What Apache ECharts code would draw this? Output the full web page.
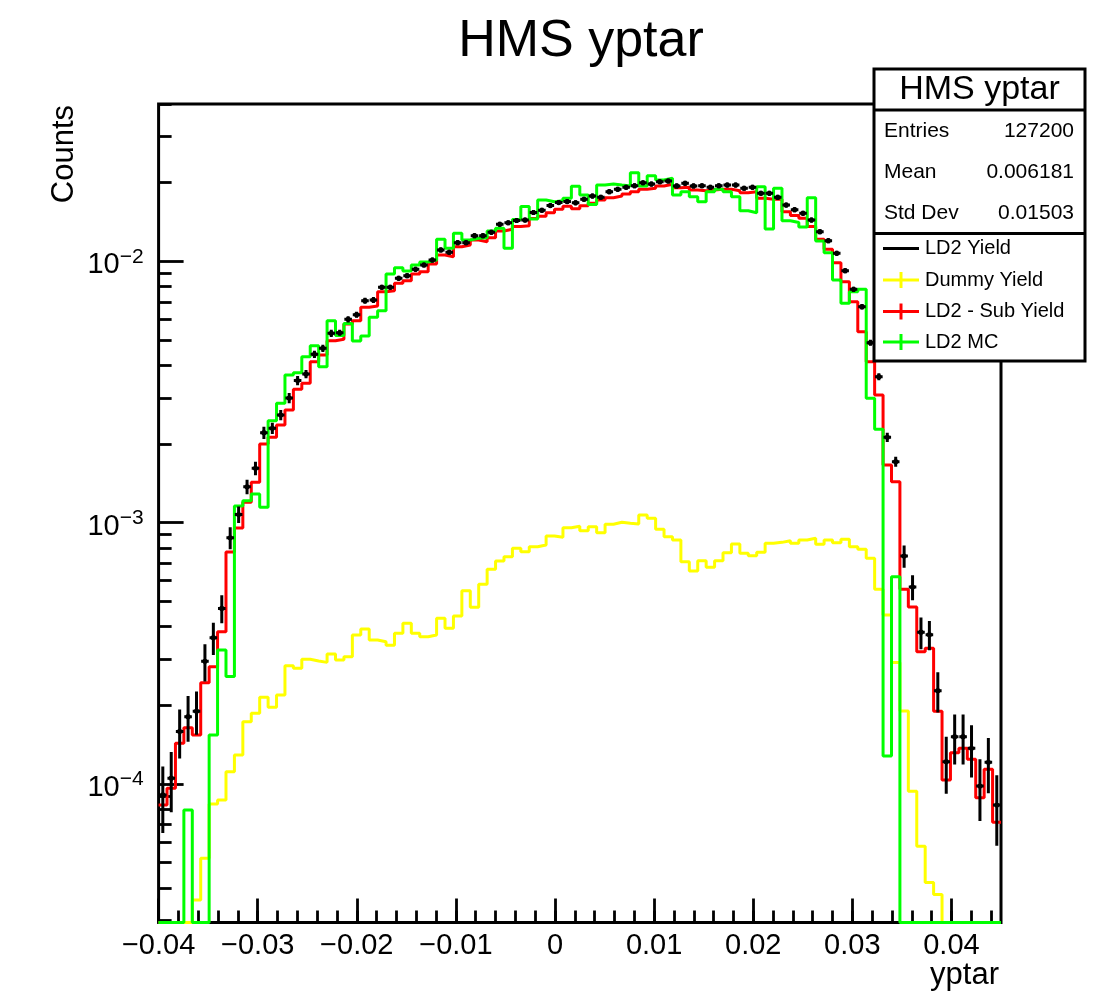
<!DOCTYPE html>
<html>
<head>
<meta charset="utf-8">
<title>HMS yptar</title>
<script src="https://cdn.jsdelivr.net/npm/echarts@6/dist/echarts.min.js"></script>
<style>
  html, body { margin: 0; padding: 0; background: #ffffff; }
  #chart { width: 1112px; height: 997px; }
</style>
</head>
<body>
<div id="chart"></div>
<script>
// ---- Histogram binning (yptar) ----
const xLow = -0.04;
const xHigh = 0.045;
const nBins = 100;

// ---- Bin contents, 100 bins each ----
const ld2Yield = [
  9.08e-5, 1.053e-4, 1.59e-4, 1.81e-4, 1.90e-4, 2.95e-4, 3.63e-4, 4.70e-4, 8.76e-4, 1.075e-3,
  1.373e-3, 1.615e-3, 2.210e-3, 2.297e-3, 2.584e-3, 3.000e-3, 3.501e-3, 3.708e-3, 4.411e-3, 4.649e-3,
  5.305e-3, 5.333e-3, 6.004e-3, 6.252e-3, 7.073e-3, 7.117e-3, 7.959e-3, 7.959e-3, 8.616e-3, 8.817e-3,
  9.328e-3, 9.687e-3, 1.012e-2, 1.106e-2, 1.083e-2, 1.179e-2, 1.179e-2, 1.254e-2, 1.254e-2, 1.292e-2,
  1.387e-2, 1.406e-2, 1.434e-2, 1.440e-2, 1.539e-2, 1.569e-2, 1.636e-2, 1.680e-2, 1.695e-2, 1.676e-2,
  1.729e-2, 1.779e-2, 1.759e-2, 1.848e-2, 1.887e-2, 1.921e-2, 1.948e-2, 2.000e-2, 1.977e-2, 2.018e-2,
  2.031e-2, 1.944e-2, 1.990e-2, 1.944e-2, 1.948e-2, 1.921e-2, 1.948e-2, 1.960e-2, 1.960e-2, 1.905e-2,
  1.921e-2, 1.822e-2, 1.822e-2, 1.759e-2, 1.643e-2, 1.577e-2, 1.528e-2, 1.440e-2, 1.299e-2, 1.200e-2,
  1.074e-2, 9.213e-3, 7.82e-3, 6.708e-3, 4.886e-3, 3.620e-3, 2.122e-3, 1.712e-3, 7.458e-4, 5.675e-4,
  3.81e-4, 3.727e-4, 2.276e-4, 1.217e-4, 1.517e-4, 1.517e-4, 1.369e-4, 9.825e-5, 1.211e-4, 8.31e-5
];

const ld2YieldErr = [
  2.59e-5, 2.73e-5, 3.39e-5, 3.6e-5, 3.58e-5, 4.8e-5, 5.1e-5, 5.8e-5, 8.5e-5, 7.8e-5,
  8.7e-5, 9.5e-5, 1.2e-4, 1.14e-4, 1.16e-4, 1.35e-4, 1.42e-4, 1.33e-4, 1.38e-4, 1.45e-4,
  1.66e-4, 1.43e-4, 1.61e-4, 1.68e-4, 1.9e-4, 1.9e-4, 1.77e-4, 1.77e-4, 1.9e-4, 1.95e-4,
  2.0e-4, 2.1e-4, 1.8e-4, 2.0e-4, 1.9e-4, 2.1e-4, 2.1e-4, 2.2e-4, 2.2e-4, 2.3e-4,
  2.5e-4, 2.5e-4, 2.6e-4, 2.6e-4, 2.7e-4, 2.8e-4, 2.9e-4, 3.0e-4, 3.0e-4, 3.0e-4,
  3.1e-4, 3.2e-4, 3.1e-4, 3.3e-4, 3.4e-4, 3.4e-4, 3.5e-4, 3.6e-4, 3.5e-4, 3.6e-4,
  3.6e-4, 3.5e-4, 3.5e-4, 3.5e-4, 3.5e-4, 3.4e-4, 3.5e-4, 3.5e-4, 3.5e-4, 3.4e-4,
  3.4e-4, 3.3e-4, 3.3e-4, 3.1e-4, 2.9e-4, 2.8e-4, 2.7e-4, 2.6e-4, 2.3e-4, 2.1e-4,
  1.9e-4, 2.0e-4, 1.8e-4, 1.6e-4, 1.3e-4, 1.1e-4, 8.5e-5, 7.5e-5, 7.3e-5, 6.2e-5,
  5.3e-5, 4.75e-5, 4.0e-5, 3.0e-5, 3.3e-5, 3.3e-5, 3.1e-5, 2.6e-5, 2.9e-5, 2.5e-5
];

const dummyYield = [
  0, 0, 0, 0, 3.60e-5, 5.20e-5, 8.39e-5, 8.69e-5, 1.114e-4, 1.291e-4,
  1.731e-4, 1.865e-4, 2.147e-4, 1.966e-4, 2.191e-4, 2.836e-4, 2.772e-4, 3.00e-4, 2.955e-4, 2.921e-4,
  3.144e-4, 2.981e-4, 3.069e-4, 3.716e-4, 3.918e-4, 3.556e-4, 3.503e-4, 3.40e-4, 3.773e-4, 4.121e-4,
  3.773e-4, 3.662e-4, 3.716e-4, 4.306e-4, 3.943e-4, 4.394e-4, 5.49e-4, 4.745e-4, 5.81e-4, 6.63e-4,
  7.13e-4, 7.41e-4, 7.98e-4, 7.74e-4, 8.09e-4, 8.21e-4, 8.89e-4, 8.79e-4, 9.57e-4, 9.69e-4,
  9.32e-4, 9.65e-4, 9.16e-4, 9.86e-4, 1.0035e-3, 9.95e-4, 9.89e-4, 1.070e-3, 1.039e-3, 9.43e-4,
  8.84e-4, 8.59e-4, 7.09e-4, 6.53e-4, 7.15e-4, 6.75e-4, 7.15e-4, 7.68e-4, 8.29e-4, 7.64e-4,
  7.48e-4, 7.70e-4, 8.34e-4, 8.41e-4, 8.53e-4, 8.34e-4, 8.59e-4, 8.72e-4, 8.27e-4, 8.59e-4,
  8.38e-4, 8.64e-4, 8.09e-4, 7.91e-4, 7.31e-4, 5.56e-4, 4.43e-4, 2.92e-4, 1.903e-4, 9.38e-5,
  5.78e-5, 4.20e-5, 3.78e-5, 0, 0, 0, 0, 0, 0, 0
];

const ld2SubYield = [
  8.31e-5, 9.63e-5, 1.432e-4, 1.642e-4, 1.540e-4, 2.442e-4, 2.811e-4, 3.827e-4, 7.725e-4, 9.54e-4,
  1.197e-3, 1.428e-3, 2.001e-3, 2.122e-3, 2.365e-3, 2.700e-3, 3.239e-3, 3.416e-3, 4.133e-3, 4.384e-3,
  4.972e-3, 5.034e-3, 5.759e-3, 5.931e-3, 6.673e-3, 6.750e-3, 7.656e-3, 7.725e-3, 8.245e-3, 8.435e-3,
  8.950e-3, 9.133e-3, 9.773e-3, 1.058e-2, 1.042e-2, 1.138e-2, 1.155e-2, 1.208e-2, 1.190e-2, 1.232e-2,
  1.307e-2, 1.327e-2, 1.360e-2, 1.370e-2, 1.459e-2, 1.488e-2, 1.535e-2, 1.583e-2, 1.625e-2, 1.590e-2,
  1.632e-2, 1.668e-2, 1.718e-2, 1.753e-2, 1.779e-2, 1.811e-2, 1.848e-2, 1.887e-2, 1.905e-2, 1.944e-2,
  1.973e-2, 1.915e-2, 1.921e-2, 1.876e-2, 1.865e-2, 1.876e-2, 1.887e-2, 1.887e-2, 1.865e-2, 1.832e-2,
  1.848e-2, 1.744e-2, 1.729e-2, 1.729e-2, 1.550e-2, 1.499e-2, 1.462e-2, 1.360e-2, 1.215e-2, 1.113e-2,
  9.886e-3, 8.36e-3, 7.013e-3, 5.383e-3, 4.133e-3, 3.081e-3, 1.662e-3, 1.435e-3, 5.561e-4, 4.757e-4,
  3.208e-4, 3.306e-4, 1.898e-4, 1.036e-4, 1.318e-4, 1.369e-4, 1.243e-4, 8.863e-5, 1.138e-4, 7.137e-5
];

const ld2MC = [
  0, 0, 0, 7.952e-5, 0, 0, 1.540e-4, 3.256e-4, 2.579e-4, 1.158e-3,
  1.214e-3, 1.288e-3, 1.145e-3, 2.457e-3, 2.863e-3, 3.675e-3, 3.751e-3, 4.318e-3, 4.757e-3, 3.954e-3,
  5.931e-3, 5.203e-3, 5.784e-3, 4.959e-3, 5.18e-3, 6.112e-3, 6.477e-3, 8.95e-3, 9.46e-3, 9.19e-3,
  9.687e-3, 9.947e-3, 1.012e-2, 1.215e-2, 1.122e-2, 1.281e-2, 1.208e-2, 1.226e-2, 1.232e-2, 1.307e-2,
  1.339e-2, 1.122e-2, 1.447e-2, 1.622e-2, 1.453e-2, 1.718e-2, 1.692e-2, 1.707e-2, 1.744e-2, 1.938e-2,
  1.795e-2, 1.651e-2, 1.960e-2, 1.977e-2, 1.960e-2, 1.944e-2, 2.185e-2, 1.944e-2, 2.128e-2, 2.049e-2,
  2.080e-2, 1.795e-2, 1.848e-2, 1.768e-2, 1.692e-2, 1.848e-2, 1.887e-2, 1.848e-2, 1.768e-2, 1.563e-2,
  1.536e-2, 1.931e-2, 1.330e-2, 1.905e-2, 1.432e-2, 1.409e-2, 1.354e-2, 1.751e-2, 1.197e-2, 1.080e-2,
  8.488e-3, 6.915e-3, 7.656e-3, 7.82e-3, 2.993e-3, 2.277e-3, 1.280e-4, 6.214e-4, 0, 0,
  0, 0, 0, 0, 0, 0, 0, 0, 0, 0
];

// ---- Axis ticks ----
const xTickValues = [-0.04, -0.03, -0.02, -0.01, 0, 0.01, 0.02, 0.03, 0.04];
const yTickExponents = [-4, -3, -2];

// ---- Statistics box ----
const statsTitle = 'HMS yptar';
const statsRows = [['Entries', '127200'], ['Mean', '0.006181'], ['Std Dev', '0.01503']];
const legendRows = [
  { name: 'LD2 Yield', color: '#000000', cross: false },
  { name: 'Dummy Yield', color: '#ffff00', cross: true },
  { name: 'LD2 - Sub Yield', color: '#ff0000', cross: true },
  { name: 'LD2 MC', color: '#00ff00', cross: true }
];

// ---- Helpers ----
const FONT = "'Liberation Sans', Arial, Helvetica, sans-serif";
const Y_LOG_MIN = -4.53;
const Y_LOG_MAX = -1.3976;
const binW = (xHigh - xLow) / nBins;
const LINE_W = 3;
const TICK_W = 2.8;

function toLog(v) {
  return Math.log10(Math.max(v, Math.pow(10, Y_LOG_MIN)));
}
function stepData(vals) {
  const d = vals.map((v, i) => [xLow + i * binW, toLog(v)]);
  d.push([xHigh, toLog(vals[vals.length - 1])]);
  return d;
}
function fmtX(v) {
  if (Math.abs(v) < 1e-12) return '0';
  return (v < 0 ? '\u2212' : '') + Math.abs(v).toFixed(2);
}

// minor tick positions
const xMinor = [];
for (let k = -20; k <= 22; k++) xMinor.push(k * 0.002);
const yMinor = [];
for (let n = -5; n <= -2; n++) {
  for (let k = 2; k <= 9; k++) {
    const l = n + Math.log10(k);
    if (l > Y_LOG_MIN && l < Y_LOG_MAX) yMinor.push(l);
  }
}

const errData = ld2Yield.map((v, i) => {
  const e = ld2YieldErr[i];
  return [xLow + (i + 0.5) * binW, Math.log10(v), Math.log10(v + e), Math.log10(Math.max(v - e, 1e-9))];
});

const axisCommon = {
  type: 'value',
  min: xLow,
  max: xHigh,
  splitLine: { show: false },
  axisLine: { show: false, onZero: false }
};

const chart = echarts.init(document.getElementById('chart'), null, { renderer: 'canvas' });

// stats box + legend graphics
const BX0 = 874, BX1 = 1085, BY0 = 69, BY1 = 361;
const graphics = [
  { type: 'rect', z: 100, shape: { x: BX0, y: BY0, width: BX1 - BX0, height: BY1 - BY0 },
    style: { fill: '#ffffff', stroke: '#000000', lineWidth: LINE_W } },
  { type: 'line', z: 101, shape: { x1: BX0, y1: 110, x2: BX1, y2: 110 }, style: { stroke: '#000', lineWidth: LINE_W } },
  { type: 'line', z: 101, shape: { x1: BX0, y1: 233.5, x2: BX1, y2: 233.5 }, style: { stroke: '#000', lineWidth: LINE_W } },
  { type: 'text', z: 101, x: (BX0 + BX1) / 2, y: 90,
    style: { text: statsTitle, font: '34px ' + FONT, fill: '#000', textAlign: 'center', textVerticalAlign: 'middle' } }
];
const statY = [131, 172.5, 213.5];
statsRows.forEach((r, i) => {
  graphics.push({ type: 'text', z: 101, x: 884, y: statY[i],
    style: { text: r[0], font: '21px ' + FONT, fill: '#000', textAlign: 'left', textVerticalAlign: 'middle' } });
  graphics.push({ type: 'text', z: 101, x: 1074, y: statY[i],
    style: { text: r[1], font: '21px ' + FONT, fill: '#000', textAlign: 'right', textVerticalAlign: 'middle' } });
});
const legY = [248.5, 280, 311.5, 342];
legendRows.forEach((r, i) => {
  const y = legY[i];
  graphics.push({ type: 'line', z: 101, shape: { x1: 883, y1: y, x2: 919, y2: y }, style: { stroke: r.color, lineWidth: LINE_W } });
  if (r.cross) {
    graphics.push({ type: 'line', z: 101, shape: { x1: 901, y1: y - 8, x2: 901, y2: y + 8 }, style: { stroke: r.color, lineWidth: LINE_W } });
  }
  graphics.push({ type: 'text', z: 101, x: 925, y: y,
    style: { text: r.name, font: '20px ' + FONT, fill: '#000', textAlign: 'left', textVerticalAlign: 'middle' } });
});
// title and axis titles
graphics.push({ type: 'text', z: 50, x: 581, y: 42,
  style: { text: 'HMS yptar', font: '52px ' + FONT, fill: '#000', textAlign: 'center', textVerticalAlign: 'middle' } });
graphics.push({ type: 'text', z: 50, x: 999, y: 975,
  style: { text: 'yptar', font: '31px ' + FONT, fill: '#000', textAlign: 'right', textVerticalAlign: 'middle' } });
graphics.push({ type: 'text', z: 50, x: 64, y: 105, rotation: Math.PI / 2,
  style: { text: 'Counts', font: '31px ' + FONT, fill: '#000', textAlign: 'right', textVerticalAlign: 'middle' } });

const option = {
  animation: false,
  backgroundColor: '#ffffff',
  textStyle: { fontFamily: FONT, color: '#000' },
  grid: {
    left: 158.6, right: 111, top: 104, bottom: 74.5,
    show: true, borderColor: '#000000', borderWidth: LINE_W, backgroundColor: 'transparent',
    containLabel: false, outerBoundsMode: 'none'
  },
  xAxis: [
    Object.assign({}, axisCommon, {
      position: 'bottom',
      axisTick: { show: true, inside: true, length: 24, customValues: xTickValues,
        lineStyle: { color: '#000', width: TICK_W } },
      axisLabel: { show: true, customValues: xTickValues, formatter: fmtX, margin: 9,
        fontSize: 29, fontFamily: FONT, color: '#000' }
    }),
    Object.assign({}, axisCommon, {
      position: 'bottom',
      axisTick: { show: true, inside: true, length: 12, customValues: xMinor,
        lineStyle: { color: '#000', width: TICK_W } },
      axisLabel: { show: false }
    })
  ],
  yAxis: [
    {
      type: 'value', min: Y_LOG_MIN, max: Y_LOG_MAX, position: 'left',
      splitLine: { show: false }, axisLine: { show: false, onZero: false },
      axisTick: { show: true, inside: true, length: 25, customValues: yTickExponents,
        lineStyle: { color: '#000', width: TICK_W } },
      axisLabel: {
        show: true, customValues: yTickExponents, margin: 15,
        formatter: v => '{b|10}{s|\u2212' + Math.round(-v) + '}',
        rich: {
          b: { fontSize: 29, fontFamily: FONT, color: '#000', lineHeight: 30, padding: [8, 0, 0, 0] },
          s: { fontSize: 21, fontFamily: FONT, color: '#000', lineHeight: 21, verticalAlign: 'top' }
        }
      }
    },
    {
      type: 'value', min: Y_LOG_MIN, max: Y_LOG_MAX, position: 'left',
      splitLine: { show: false }, axisLine: { show: false, onZero: false },
      axisTick: { show: true, inside: true, length: 13, customValues: yMinor,
        lineStyle: { color: '#000', width: TICK_W } },
      axisLabel: { show: false }
    }
  ],
  graphic: { elements: graphics },
  series: [
    {
      name: 'Dummy Yield', type: 'line', step: 'end', data: stepData(dummyYield),
      xAxisIndex: 0, yAxisIndex: 0, symbol: 'none', showSymbol: false, clip: true, z: 2,
      lineStyle: { color: '#ffff00', width: LINE_W }
    },
    {
      name: 'LD2 - Sub Yield', type: 'line', step: 'end', data: stepData(ld2SubYield),
      xAxisIndex: 0, yAxisIndex: 0, symbol: 'none', showSymbol: false, clip: true, z: 3,
      lineStyle: { color: '#ff0000', width: LINE_W }
    },
    {
      name: 'LD2 MC', type: 'line', step: 'end', data: stepData(ld2MC),
      xAxisIndex: 0, yAxisIndex: 0, symbol: 'none', showSymbol: false, clip: true, z: 4,
      lineStyle: { color: '#00ff00', width: LINE_W }
    },
    {
      name: 'LD2 Yield', type: 'custom', data: errData, xAxisIndex: 0, yAxisIndex: 0, z: 5, clip: true,
      encode: { x: 0, y: 1 },
      renderItem: function (params, api) {
        const x = api.value(0);
        const c = api.coord([x, api.value(1)]);
        const hi = api.coord([x, api.value(2)]);
        const lo = api.coord([x, api.value(3)]);
        const hw = api.size([binW, 0])[0] * 0.45;
        const st = { stroke: '#000', lineWidth: LINE_W };
        return {
          type: 'group',
          children: [
            { type: 'line', shape: { x1: c[0] - hw, y1: c[1], x2: c[0] + hw, y2: c[1] }, style: st },
            { type: 'line', shape: { x1: c[0], y1: Math.min(hi[1], c[1] - 2.5), x2: c[0], y2: Math.max(lo[1], c[1] + 2.5) }, style: st },
            { type: 'circle', shape: { cx: c[0], cy: c[1], r: 2.6 }, style: { fill: '#000' } }
          ]
        };
      }
    }
  ]
};

chart.setOption(option);
</script>
</body>
</html>
